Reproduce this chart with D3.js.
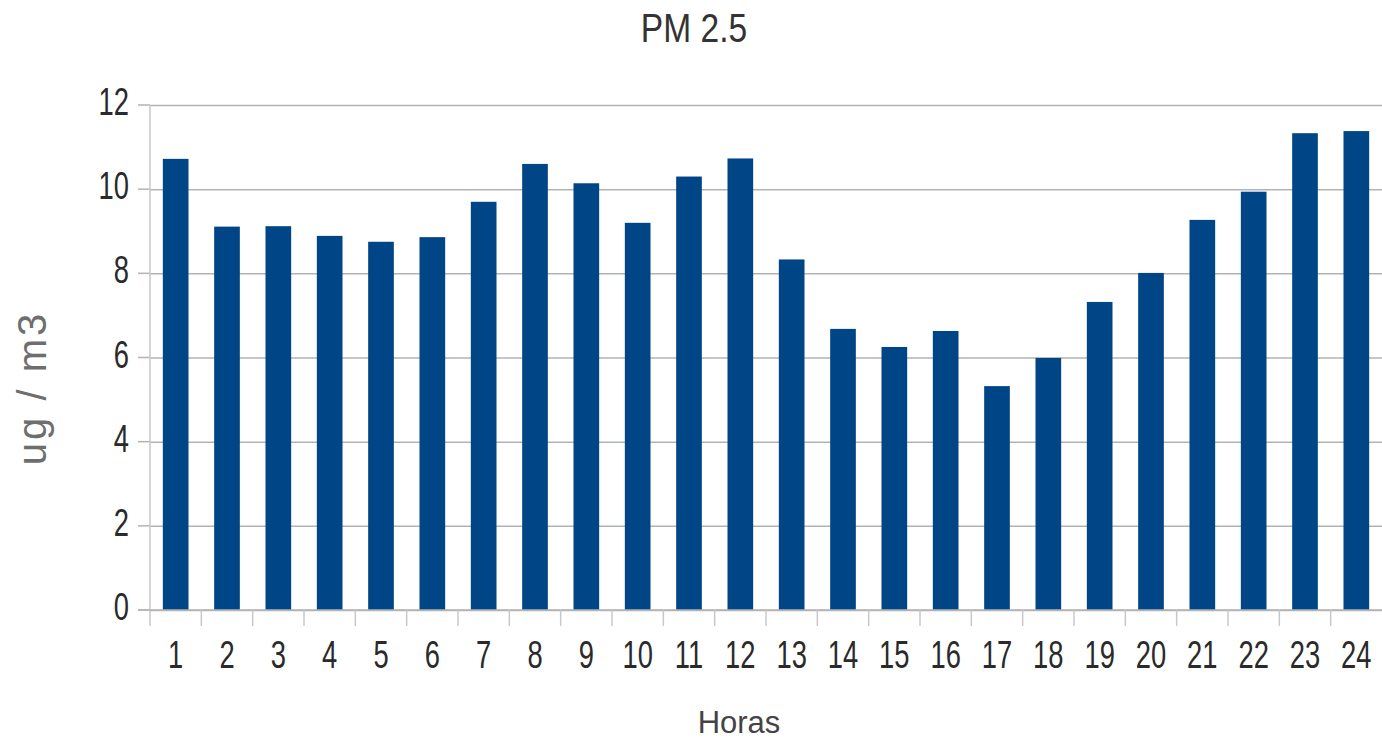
<!DOCTYPE html>
<html lang="es">
<head>
	<meta charset="utf-8">
	<title>PM 2.5</title>
	<script src="https://d3js.org/d3.v7.min.js"></script>
	<style>
		body { margin: 0; background: #fff; }
		text { font-family: "Liberation Sans", Arial, sans-serif; }
	</style>
</head>
<body>
	<div id="chart"></div>
	<script>
		// Data
		const horas = ["1","2","3","4","5","6","7","8","9","10","11","12","13","14","15","16","17","18","19","20","21","22","23","24"];
		const pm25 = [10.72, 9.11, 9.12, 8.89, 8.75, 8.86, 9.7, 10.6, 10.14, 9.2, 10.3, 10.73, 8.33, 6.68, 6.25, 6.63, 5.32, 5.99, 7.32, 8.01, 9.27, 9.94, 11.33, 11.38];
		const yTicks = [0, 2, 4, 6, 8, 10, 12];

		// Dimensions
		const W = 1382, H = 740;
		const plot = { left: 150, right: 1382, top: 105, bottom: 610 };

		const svg = d3.select("#chart").append("svg")
			.attr("width", W)
			.attr("height", H);

		// Scales
		const x = d3.scaleBand()
			.domain(horas)
			.range([plot.left, plot.right])
			.paddingInner(0.5)
			.paddingOuter(0.25);

		const y = d3.scaleLinear()
			.domain([0, 12])
			.range([plot.bottom, plot.top]);

		// Gridlines
		svg.append("g")
			.attr("transform", `translate(${plot.left},0)`)
			.call(d3.axisLeft(y).tickValues(yTicks).tickSize(-(plot.right - plot.left)).tickFormat(""))
			.call(g => g.select(".domain").remove())
			.selectAll(".tick line")
			.attr("stroke", "#b3b3b3")
			.attr("stroke-width", 1.5);

		// short tick marks on left
		svg.append("g")
			.selectAll("line")
			.data(yTicks)
			.join("line")
			.attr("x1", plot.left - 12).attr("x2", plot.left)
			.attr("y1", d => y(d)).attr("y2", d => y(d))
			.attr("stroke", "#b3b3b3")
			.attr("stroke-width", 1.5);

		// Bars
		svg.append("g")
			.selectAll("rect")
			.data(pm25)
			.join("rect")
			.attr("x", (d, i) => x(horas[i]))
			.attr("y", d => y(d))
			.attr("width", x.bandwidth())
			.attr("height", d => y(0) - y(d))
			.attr("fill", "#004586");

		// Axes lines
		svg.append("line")
			.attr("x1", plot.left).attr("x2", plot.left)
			.attr("y1", plot.top).attr("y2", plot.bottom + 16)
			.attr("stroke", "#c8c8c8").attr("stroke-width", 1.5);

		svg.append("line")
			.attr("x1", plot.left - 12).attr("x2", plot.right)
			.attr("y1", plot.bottom).attr("y2", plot.bottom)
			.attr("stroke", "#b3b3b3").attr("stroke-width", 1.5);

		// x tick marks between categories
		svg.append("g")
			.selectAll("line")
			.data(horas.slice(1))
			.join("line")
			.attr("x1", d => x(d) - x.step() * x.paddingInner() / 2)
			.attr("x2", d => x(d) - x.step() * x.paddingInner() / 2)
			.attr("y1", plot.bottom).attr("y2", plot.bottom + 16)
			.attr("stroke", "#c8c8c8").attr("stroke-width", 1.5);

		// y tick labels (tall, narrow lettering)
		svg.append("g")
			.selectAll("text")
			.data(yTicks)
			.join("text")
			.attr("transform", d => `translate(129,${y(d) + 10}) scale(0.72,1)`)
			.attr("text-anchor", "end")
			.attr("font-size", 38)
			.attr("fill", "#2a2a2a")
			.text(d => d);

		// x tick labels
		svg.append("g")
			.selectAll("text")
			.data(horas)
			.join("text")
			.attr("transform", d => `translate(${x(d) + x.bandwidth() / 2},668) scale(0.72,1)`)
			.attr("text-anchor", "middle")
			.attr("font-size", 38)
			.attr("fill", "#2a2a2a")
			.text(d => d);

		// Title
		svg.append("text")
			.attr("transform", "translate(694,42) scale(0.84,1)")
			.attr("text-anchor", "middle")
			.attr("font-size", 40)
			.attr("fill", "#333")
			.text("PM 2.5");

		// Axis titles
		svg.append("text")
			.attr("transform", "translate(739,733)")
			.attr("text-anchor", "middle")
			.attr("font-size", 31)
			.attr("fill", "#444")
			.text("Horas");

		svg.append("text")
			.attr("transform", "translate(46,388) rotate(-90)")
			.attr("text-anchor", "middle")
			.attr("font-size", 40)
			.attr("letter-spacing", 3)
			.attr("fill", "#6e6e6e")
			.text("ug / m3");
	</script>
</body>
</html>
